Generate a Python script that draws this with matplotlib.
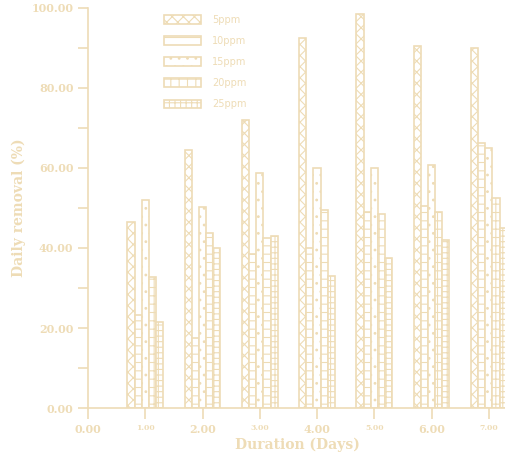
import matplotlib
matplotlib.use("Agg")
import matplotlib.pyplot as plt
import numpy as np

days = [1, 2, 3, 4, 5, 6, 7]
series = ["5ppm", "10ppm", "15ppm", "20ppm", "25ppm"]
v5 = [46.5, 64.5, 72.0, 92.5, 98.5, 90.5, 90.0]
v10 = [23.2, 17.5, 38.5, 40.0, 49.0, 50.5, 66.2]
v15 = [52.0, 50.2, 58.7, 60.0, 60.0, 60.7, 65.0]
v20 = [32.8, 43.7, 42.5, 49.5, 48.5, 49.0, 52.5]
v25 = [21.5, 40.0, 43.0, 33.0, 37.5, 42.0, 45.0]
values = [v5, v10, v15, v20, v25]
hatches = ["xxx", "--", "..", "++", "+++"]

C = "#eedcb6"
plt.rcParams["hatch.color"] = C
plt.rcParams["hatch.linewidth"] = 0.8
fig = plt.figure(figsize=(5.06, 4.59), dpi=100)
ax = fig.add_axes([0.174, 0.111, 0.826, 0.872])
w = 0.125
x = np.array(days, dtype=float)
for i, (name, vals, h) in enumerate(zip(series, values, hatches)):
    ax.bar(x + (i - 2) * w, vals, w, facecolor="white", edgecolor=C,
           hatch=h, linewidth=1.2, label=name)
ax.set_xlim(0, 7.3)
ax.set_ylim(0, 100)
for s in ["top", "right"]:
    ax.spines[s].set_visible(False)
for s in ["left", "bottom"]:
    ax.spines[s].set_color(C)
    ax.spines[s].set_linewidth(1.2)
ax.set_yticks(np.arange(0, 101, 20))
ax.set_yticks(np.arange(10, 100, 20), minor=True)
ax.set_yticklabels([f"{v:.2f}" for v in range(0, 101, 20)],
                   family="DejaVu Serif", fontweight="bold", fontsize=8, color=C)
ax.set_xticks(range(0, 8))
ax.set_xticklabels([f"{v:.2f}" for v in range(0, 8)], family="DejaVu Serif",
                   fontweight="bold", color=C)
for i, t in enumerate(ax.get_xticklabels()):
    t.set_fontsize(8 if i % 2 == 0 else 5.5)
ax.tick_params(which="both", color=C, width=1.2, length=7)
ax.tick_params(axis="x", which="major", length=8)
ax.set_xlabel("Duration (Days)", family="DejaVu Serif", fontweight="bold",
              fontsize=10, color=C, labelpad=2)
ax.set_ylabel("Daily removal (%)", family="DejaVu Serif", fontweight="bold",
              fontsize=10, color=C)
leg = ax.legend(loc="upper left", bbox_to_anchor=(0.16, 1.005), frameon=False,
                handlelength=3.8, handleheight=1.0, labelspacing=1.15,
                handletextpad=1.2, prop={"size": 7})
for t in leg.get_texts():
    t.set_color(C)
fig.savefig("out.png", dpi=100)
